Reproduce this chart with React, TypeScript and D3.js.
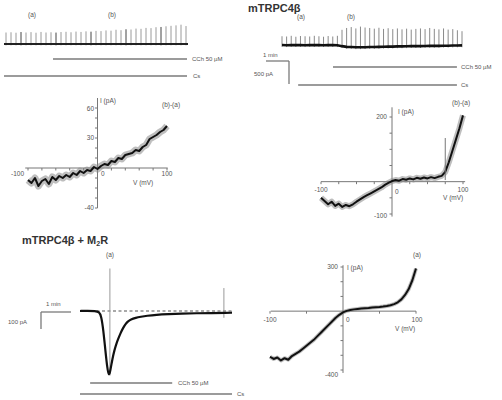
import React from 'react';
import * as d3 from 'd3';

// top-left: ramp sweeps (peak current, pA) before/after CCh
const peaksA = [250, 255, 245, 260, 250, 258, 245, 262, 250, 255, 248, 260, 265, 255, 270, 262, 275, 268, 285, 280, 295, 290, 310, 300, 320, 315, 335, 330, 350, 345, 365, 370, 385, 395, 405, 420, 390];
const cchA = [9.4, 36.2];
const csA = [-0.4, 36.2];

// top-right: mTRPC4b sweeps
const peaksB = [190, 185, 200, 180, 195, 190, 185, 200, 190, 180, 195, 185, 200,
  330, 370, 390, 360, 400, 380, 370, 355, 375, 350, 365, 345, 360, 340, 355, 335, 350, 360, 345, 370, 350, 340, 360, 335, 345, 320, 300];
const baseB = [0, -5, 0, -3, 0, -5, 0, -2, 0, -4, 0, -3, -5,
  -25, -40, -45, -50, -50, -48, -45, -45, -40, -38, -35, -35, -30, -30, -28, -25, -25, -25, -22, -20, -20, -18, -15, -15, -12, -10, -8];
const cchB = [11.05, 37.9];
const csB = [3.5, 37.9];

// I-V curves (mV, pA)
const ivV = [-100, -95, -90, -85, -80, -75, -70, -65, -60, -55, -50, -45, -40, -35, -30, -25, -20, -15, -10, -5, 0,
  5, 10, 15, 20, 25, 30, 35, 40, 45, 50, 55, 60, 65, 70, 75, 80, 85, 90, 95, 100];
const ivA = [-12, -15, -10, -18, -13, -11, -16, -9, -12, -8, -10, -7, -9, -5, -7, -3, -5, -2, -3, 1, -1,
  2, 4, 3, 7, 6, 10, 9, 13, 14, 15, 18, 17, 21, 23, 29, 31, 33, 36, 38, 42];
const ivB = [-50, -60, -70, -62, -75, -68, -78, -72, -76, -70, -62, -55, -48, -42, -36, -30, -24, -18, -10, -4, 2,
  5, 3, 8, 6, 10, 7, 12, 9, 13, 10, 14, 11, 15, 18, 30, 60, 95, 130, 165, 205];
const ivC = [-310, -325, -315, -335, -320, -330, -305, -290, -275, -255, -235, -215, -195, -170, -145, -120, -95, -70, -45, -25, -8,
  2, 8, 12, 15, 18, 20, 22, 25, 27, 28, 31, 35, 40, 48, 60, 80, 110, 150, 210, 290];

// mTRPC4b + M2R time course (s, pA)
const tC = [0, 15, 30, 38, 42, 46, 50, 54, 57, 60, 64, 68, 72, 76, 80, 85, 90, 95, 100, 110, 120, 132, 150, 175, 200, 230, 260, 290, 300];
const iC = [0, 1, 0, -5, -30, -110, -230, -340, -385, -350, -280, -230, -190, -160, -130, -100, -75, -60, -50, -40, -34, -28, -22, -18, -15, -13, -12, -11, -10];
const artT = [59, 284];
const artTop = [250, 135];
const artBot = [-380, -40];
const cchC = [20, 182];
const csC = [0, 300];

const font = 'Liberation Sans, Arial, sans-serif';
const ink = '#555';
const bar = '#7a7a7a';

const T = ({ x, y, s = 6.5, a = 'start', b = false, c = ink, children }: any) => (
  <text x={x} y={y} fontSize={s} textAnchor={a} fontWeight={b ? 'bold' : 'normal'} fill={c} fontFamily={font}>{children}</text>
);

function IV({ x, y, ys, xt, yt, xe, ye, halo = 5 }: any) {
  const line = d3.line<number>().x((_, k) => x(ivV[k])).y((d) => y(d)).curve(d3.curveLinear);
  return (
    <g>
      <line x1={x(xe[0])} x2={x(xe[1])} y1={y(0)} y2={y(0)} stroke="#777" strokeWidth={1} />
      <line x1={x(0)} x2={x(0)} y1={y(ye[0])} y2={y(ye[1])} stroke="#777" strokeWidth={1} />
      {xt.map((t: number) => (
        <line key={'x' + t} x1={x(t)} x2={x(t)} y1={y(0)} y2={y(0) + 2.5} stroke="#777" />
      ))}
      {yt.map((t: number) => (
        <line key={'y' + t} x1={x(0) - 2.5} x2={x(0)} y1={y(t)} y2={y(t)} stroke="#777" />
      ))}
      <path d={line(ys) || ''} fill="none" stroke="#888" strokeOpacity={0.55} strokeWidth={halo} strokeLinejoin="round" />
      <path d={line(ys) || ''} fill="none" stroke="#111" strokeWidth={2} strokeLinejoin="round" />
    </g>
  );
}

export default function App() {
  // top-left trace
  const xA = d3.scaleLinear().domain([0, peaksA.length - 1]).range([6, 186]);
  const yA = d3.scaleLinear().domain([0, 500]).range([44, 21]);
  // top-right trace
  const xB = d3.scaleLinear().domain([0, peaksB.length - 1]).range([282, 462]);
  const yB = d3.scaleLinear().domain([0, 500]).range([45, 22]);
  const baseLineB = d3.line<number>().x((_, k) => xB(k)).y((d) => yB(d));
  // I-V scales
  const xIA = d3.scaleLinear().domain([-100, 100]).range([28, 167]);
  const yIA = d3.scaleLinear().domain([-40, 60]).range([208, 108]);
  const xIB = d3.scaleLinear().domain([-100, 100]).range([321, 463]);
  const yIB = d3.scaleLinear().domain([-100, 200]).range([214, 117]);
  const xIC = d3.scaleLinear().domain([-100, 100]).range([270, 416]);
  const yIC = d3.scaleLinear().domain([-400, 300]).range([370, 267]);
  // time course
  const xC = d3.scaleLinear().domain([0, 300]).range([80, 232]);
  const yC = d3.scaleLinear().domain([-400, 300]).range([379, 260]);
  const lineC = d3.line<number>().x((d) => xC(d)).y((_, k) => yC(iC[k])).curve(d3.curveBasis);

  return (
    <svg width={502} height={400} style={{ position: 'absolute', left: 0, top: 0, background: '#fff' }}>
      {/* ---- top-left ---- */}
      <T x={28} y={17}>(a)</T>
      <T x={108} y={17}>(b)</T>
      {peaksA.map((p, k) => (
        <line key={k} x1={xA(k)} x2={xA(k)} y1={yA(-30)} y2={yA(p)} stroke={k % 7 === 3 ? '#444' : '#9a9a9a'} strokeWidth={1} />
      ))}
      <line x1={xA(-0.4)} x2={xA(36.4)} y1={yA(0)} y2={yA(0)} stroke="#222" strokeWidth={1.8} />
      <line x1={xA(cchA[0])} x2={xA(cchA[1])} y1={59} y2={59} stroke={bar} strokeWidth={1.5} />
      <T x={192} y={61} s={6}>CCh 50 µM</T>
      <line x1={xA(csA[0])} x2={xA(csA[1])} y1={76} y2={76} stroke={bar} strokeWidth={1.5} />
      <T x={193} y={78} s={6}>Cs</T>

      {/* ---- top-right ---- */}
      <T x={248} y={12} s={11} b c="#333">mTRPC4β</T>
      <T x={297} y={19}>(a)</T>
      <T x={347} y={19}>(b)</T>
      {peaksB.map((p, k) => (
        <line key={k} x1={xB(k)} x2={xB(k)} y1={yB(baseB[k] - 40)} y2={yB(p)} stroke="#8a8a8a" strokeWidth={1} />
      ))}
      <path d={baseLineB(baseB) || ''} fill="none" stroke="#111" strokeWidth={2.6} />
      <line x1={266} x2={289} y1={61} y2={61} stroke={bar} strokeWidth={1.3} />
      <line x1={289} x2={289} y1={61} y2={84} stroke={bar} strokeWidth={1.3} />
      <T x={263} y={57} s={6}>1 min</T>
      <T x={254} y={76} s={6}>500 pA</T>
      <line x1={xB(cchB[0])} x2={xB(cchB[1])} y1={67} y2={67} stroke={bar} strokeWidth={1.5} />
      <T x={461} y={69} s={6}>CCh 50 µM</T>
      <line x1={xB(csB[0])} x2={xB(csB[1])} y1={85} y2={85} stroke={bar} strokeWidth={1.5} />
      <T x={461} y={87} s={6}>Cs</T>

      {/* ---- top-left I-V ---- */}
      <IV x={xIA} y={yIA} ys={ivA} halo={7} xt={[-100, -80, -60, -40, -20, 20, 40, 60, 80, 100]} yt={[-40, -30, -20, -10, 10, 20, 30, 40, 50, 60]} xe={[-104, 101]} ye={[-40, 70]} />
      <T x={24} y={176} a="end">-100</T>
      <T x={101} y={176}>0</T>
      <T x={167} y={176} a="middle">100</T>
      <T x={133} y={185}>V (mV)</T>
      <T x={94} y={111} a="end">60</T>
      <T x={94} y={140} a="end">30</T>
      <T x={94} y={210} a="end">-40</T>
      <T x={100} y={103}>I (pA)</T>
      <T x={162} y={107}>(b)-(a)</T>

      {/* ---- top-right I-V ---- */}
      <IV x={xIB} y={yIB} ys={ivB} halo={6} xt={[-100, -75, -50, -25, 25, 50, 75, 100]} yt={[-100, -50, 50, 100, 150, 200]} xe={[-100, 103]} ye={[-108, 230]} />
      <line x1={xIB(75)} x2={xIB(75)} y1={yIB(135)} y2={yIB(5)} stroke="#777" strokeWidth={1} />
      <T x={321} y={192} a="middle">-100</T>
      <T x={395} y={194}>0</T>
      <T x={463} y={192} a="middle">100</T>
      <T x={443} y={200}>V (mV)</T>
      <T x={387} y={119} a="end">200</T>
      <T x={387} y={218} a="end">-100</T>
      <T x={398} y={114}>I (pA)</T>
      <T x={452} y={105}>(b)-(a)</T>

      {/* ---- bottom-left: mTRPC4b + M2R ---- */}
      <text x={22} y={244} fontSize={11} fontWeight="bold" fill="#333" fontFamily={font}>
        mTRPC4β + M<tspan fontSize={7} dy={2}>2</tspan><tspan dy={-2}>R</tspan>
      </text>
      <T x={110} y={257} a="middle">(a)</T>
      <line x1={41} x2={71} y1={312} y2={312} stroke={bar} strokeWidth={1.3} />
      <line x1={41} x2={41} y1={312} y2={329} stroke={bar} strokeWidth={1.3} />
      <T x={46} y={306} s={6}>1 min</T>
      <T x={8} y={324} s={6}>100 pA</T>
      <line x1={xC(0)} x2={xC(300)} y1={yC(0)} y2={yC(0)} stroke="#555" strokeWidth={1.2} strokeDasharray="3,2.5" />
      {artT.map((t, k) => (
        <line key={k} x1={xC(t)} x2={xC(t)} y1={yC(artTop[k])} y2={yC(artBot[k])} stroke="#999" strokeWidth={1} />
      ))}
      <path d={lineC(tC) || ''} fill="none" stroke="#111" strokeWidth={2.2} />
      <line x1={xC(cchC[0])} x2={xC(cchC[1])} y1={383} y2={383} stroke={bar} strokeWidth={1.5} />
      <T x={178} y={385} s={6}>CCh 50 µM</T>
      <line x1={xC(csC[0])} x2={xC(csC[1])} y1={394} y2={394} stroke={bar} strokeWidth={1.5} />
      <T x={237} y={396} s={6}>Cs</T>

      {/* ---- bottom-right I-V ---- */}
      <IV x={xIC} y={yIC} ys={ivC} halo={4} xt={[-100, -50, 50, 100]} yt={[-400, -300, -200, -100, 100, 200, 300]} xe={[-99, 100]} ye={[-420, 312]} />
      <T x={270} y={322} a="middle">-100</T>
      <T x={346} y={322}>0</T>
      <T x={417} y={322} a="middle">100</T>
      <T x={395} y={331}>V (mV)</T>
      <T x={338} y={269} a="end">300</T>
      <T x={338} y={377} a="end">-400</T>
      <T x={347} y={270}>I (pA)</T>
      <T x={413} y={257}>(a)</T>
    </svg>
  );
}
